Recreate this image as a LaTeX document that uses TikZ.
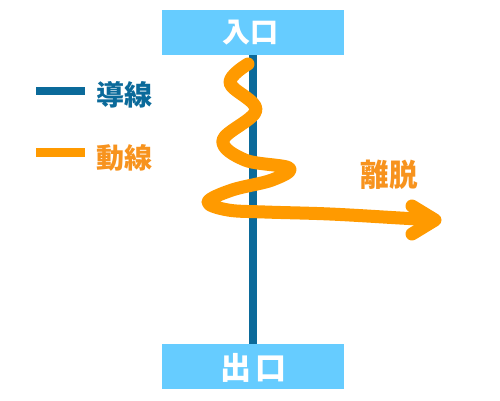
\documentclass[tikz,border=0pt]{standalone}
\usepackage{fontspec}
\newfontfamily\cjk{Noto Sans CJK JP}
\definecolor{guideblue}{HTML}{0B6A9A}
\definecolor{boxblue}{HTML}{66CCFF}
\definecolor{flow}{HTML}{FF9A00}
\definecolor{flowtext}{HTML}{F7931E}
\begin{document}
\begin{tikzpicture}[x=1pt,y=-1pt,
  gate/.style={fill=boxblue, minimum width=182pt, minimum height=45pt, inner sep=0pt},
  gatetext/.style={text=white, inner sep=0pt},
  legtext/.style={anchor=west, inner sep=0pt, font=\cjk\bfseries\fontsize{28}{28}\selectfont},
  flowline/.style={draw=flow, line width=13pt, line cap=round, line join=round}]
\useasboundingbox (0,0) rectangle (500,400);
\node[gate] (in) at (253,32.5) {};
\node[gatetext, font=\cjk\bfseries\fontsize{28}{28}\selectfont] (inlabel) at (250,33) {入口};
\node[gate] (out) at (253,366.5) {};
\node[gatetext, font=\cjk\bfseries\fontsize{31}{31}\selectfont] (outlabel) at (253,368) {出\kern4pt 口};
\draw[guideblue, line width=8pt] (in.south) -- (out.north);
% legend
\coordinate (lb1) at (36,91); \coordinate (lb2) at (85,91);
\coordinate (lo1) at (36,152); \coordinate (lo2) at (85,152);
\draw[guideblue, line width=8pt] (lb1) -- (lb2);
\draw[flow, line width=9pt] (lo1) -- (lo2);
\node[legtext, text=guideblue] (tguide) at (96,95) {導線};
\node[legtext, text=flowtext] (tflow) at (96,158) {動線};
% flow path
\draw[flowline] plot[smooth, tension=0.6] coordinates {(248,64) (230,83) (256,110) (223,140) (245,160) (289,168) (272,180) (232,190) (208,202) (228,210) (265,212) (330,214) (400,218) (434,220)};
\coordinate (tip) at (435,220);
\coordinate (wa) at (412,206);
\coordinate (wb) at (412,234);
\draw[flowline] (wa) -- (tip) -- (wb);
\node[text=flowtext, inner sep=0pt, font=\cjk\bfseries\fontsize{31}{31}\selectfont, xscale=0.92] (leave) at (389,175) {離脱};
\end{tikzpicture}
\end{document}
